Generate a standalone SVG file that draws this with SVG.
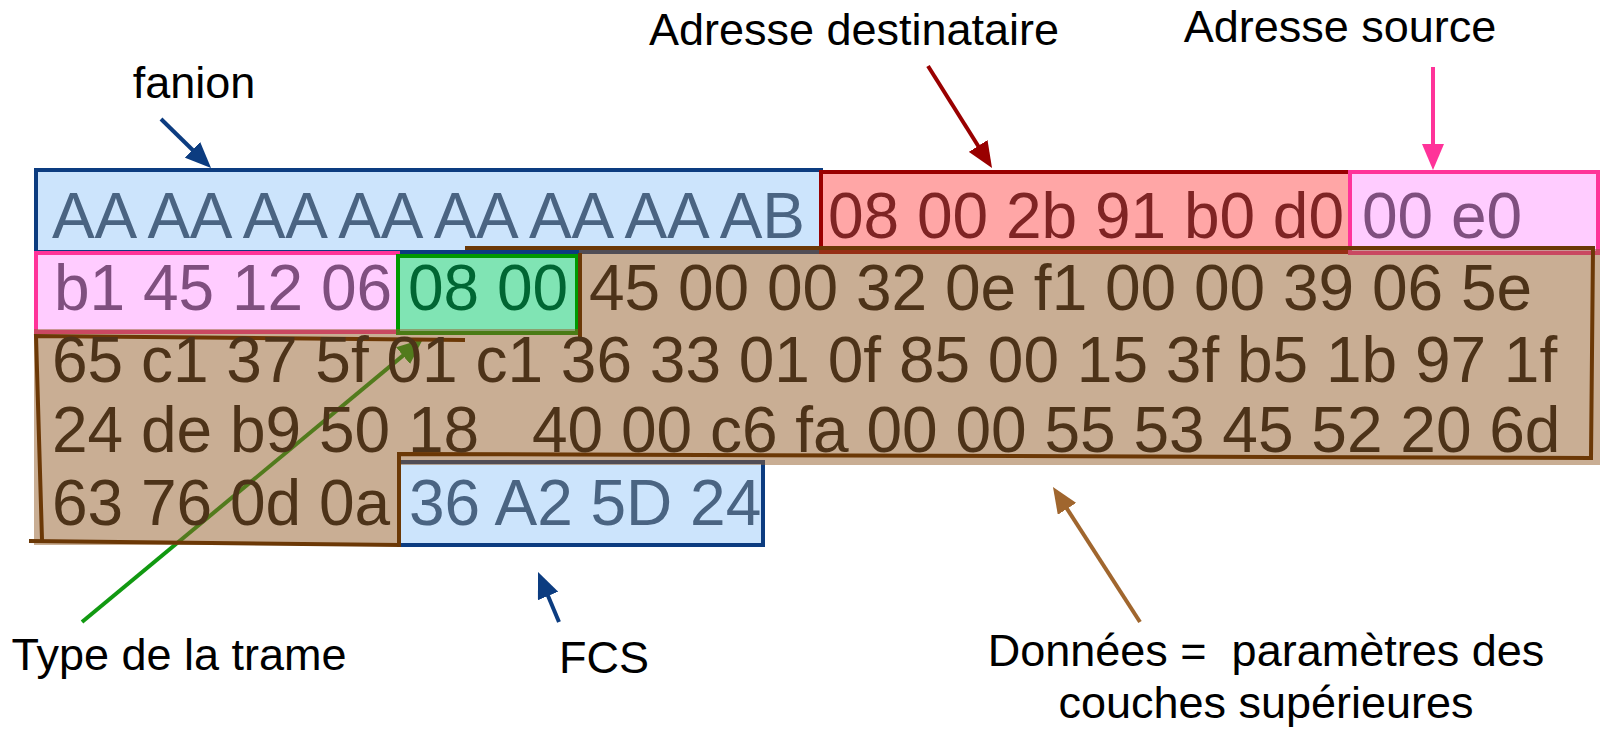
<svg xmlns="http://www.w3.org/2000/svg" width="1600" height="731" viewBox="0 0 1600 731">
<defs>
<style>
.hex{font-family:"Liberation Sans",Arial,sans-serif;font-size:64px}
.lbl{font-family:"Liberation Sans",Arial,sans-serif;font-size:45px;fill:#000}
.box{stroke-width:4}
.arr{fill:none;stroke-width:4}
</style>
<marker id="mBlue" markerUnits="userSpaceOnUse" markerWidth="26" markerHeight="22" refX="16" refY="11" orient="auto"><path d="M0,0 L26,11 L0,22 z" fill="#0c3c80"/></marker>
<marker id="mRed" markerUnits="userSpaceOnUse" markerWidth="26" markerHeight="22" refX="16" refY="11" orient="auto"><path d="M0,0 L26,11 L0,22 z" fill="#990000"/></marker>
<marker id="mPink" markerUnits="userSpaceOnUse" markerWidth="26" markerHeight="22" refX="16" refY="11" orient="auto"><path d="M0,0 L26,11 L0,22 z" fill="#ff3399"/></marker>
<marker id="mGreen" markerUnits="userSpaceOnUse" markerWidth="26" markerHeight="22" refX="16" refY="11" orient="auto"><path d="M0,0 L26,11 L0,22 z" fill="#119911"/></marker>
<marker id="mBrown" markerUnits="userSpaceOnUse" markerWidth="26" markerHeight="22" refX="16" refY="11" orient="auto"><path d="M0,0 L26,11 L0,22 z" fill="#a0662e"/></marker>
</defs>
<rect width="1600" height="731" fill="#fff"/>

<g id="fanion-field">
<rect class="box" x="36" y="170" width="785" height="82" fill="#cce4fc" stroke="#0c3c80"/>
<text class="hex" x="52" y="238" fill="#4a6482" textLength="753" lengthAdjust="spacing">AA AA AA AA AA AA AA AB</text>
</g>
<g id="adresse-destinataire-field">
<rect class="box" x="821" y="172" width="529" height="80" fill="#ffa6a6" stroke="#990000"/>
<text class="hex" x="828" y="238" fill="#7f2424">08 00 2b 91 b0 d0</text>
</g>
<g id="adresse-source-field-1">
<rect class="box" x="1350" y="172" width="248" height="81" fill="#ffccff" stroke="#ff3399"/>
<text class="hex" x="1362" y="238" fill="#7f4f7f">00 e0</text>
</g>
<g id="adresse-source-field-2">
<rect class="box" x="36" y="253" width="362" height="79" fill="#ffccff" stroke="#ff3399"/>
<text class="hex" x="54" y="310" fill="#7f4f7f">b1 45 12 06</text>
</g>
<g id="type-field">
<rect class="box" x="398" y="256" width="179" height="77" fill="#80e4b4" stroke="#009900"/>
<text class="hex" x="408" y="310" fill="#006633">08 00</text>
</g>
<g id="fcs-field">
<rect class="box" x="399" y="462" width="364" height="83" fill="#cce4fc" stroke="#0c3c80"/>
<text class="hex" x="409" y="525" fill="#4a6482">36 A2 5D 24</text>
</g>

<g id="connectors-under">
<path class="arr" d="M82,622 L415.3,345.4" stroke="#119911" marker-end="url(#mGreen)"/>
</g>

<g id="donnees-field">
<polygon points="579,249 1600,249 1600,465 399,465 399,545 34,545 34,329 579,329" fill="#935d29" fill-opacity="0.5"/>
<path d="M465,248 L1593,248 L1591,458 L399,454 L399,545 L29,541 M42,540 L36,336 L465,340 M580,253 L580,337" fill="none" stroke="#6b3806" stroke-width="4"/>
<text class="hex" x="589" y="310" fill="#4d3319">45 00 00 32 0e f1 00 00 39 06 5e</text>
<text class="hex" x="52" y="382" fill="#4d3319">65 c1 37 5f 01 c1 36 33 01 0f 85 00 15 3f b5 1b 97 1f</text>
<text class="hex" x="52" y="452" fill="#4d3319">24 de b9 50 18<tspan x="532">40 00 c6 fa 00 00 55 53 45 52 20 6d</tspan></text>
<text class="hex" x="52" y="525" fill="#4d3319">63 76 0d 0a</text>
</g>

<g id="connectors">
<path class="arr" d="M161,119 L203.9,161" stroke="#0c3c80" marker-end="url(#mBlue)"/>
<path class="arr" d="M928,66 L986.7,159.5" stroke="#990000" marker-end="url(#mRed)"/>
<path class="arr" d="M1433,67 L1433,160" stroke="#ff3399" marker-end="url(#mPink)"/>
<path class="arr" d="M559,622 L541.9,581.2" stroke="#0c3c80" marker-end="url(#mBlue)"/>
<path class="arr" d="M1140,622 L1058.4,495.4" stroke="#a0662e" marker-end="url(#mBrown)"/>
</g>

<g id="labels">
<text class="lbl" x="194" y="98" text-anchor="middle">fanion</text>
<text class="lbl" x="854" y="45" text-anchor="middle">Adresse destinataire</text>
<text class="lbl" x="1340" y="42" text-anchor="middle">Adresse source</text>
<text class="lbl" x="179" y="670" text-anchor="middle">Type de la trame</text>
<text class="lbl" x="604" y="673" text-anchor="middle">FCS</text>
<text class="lbl" x="1266" y="666" text-anchor="middle" xml:space="preserve">Données =  paramètres des</text>
<text class="lbl" x="1266" y="718" text-anchor="middle">couches supérieures</text>
</g>
</svg>
